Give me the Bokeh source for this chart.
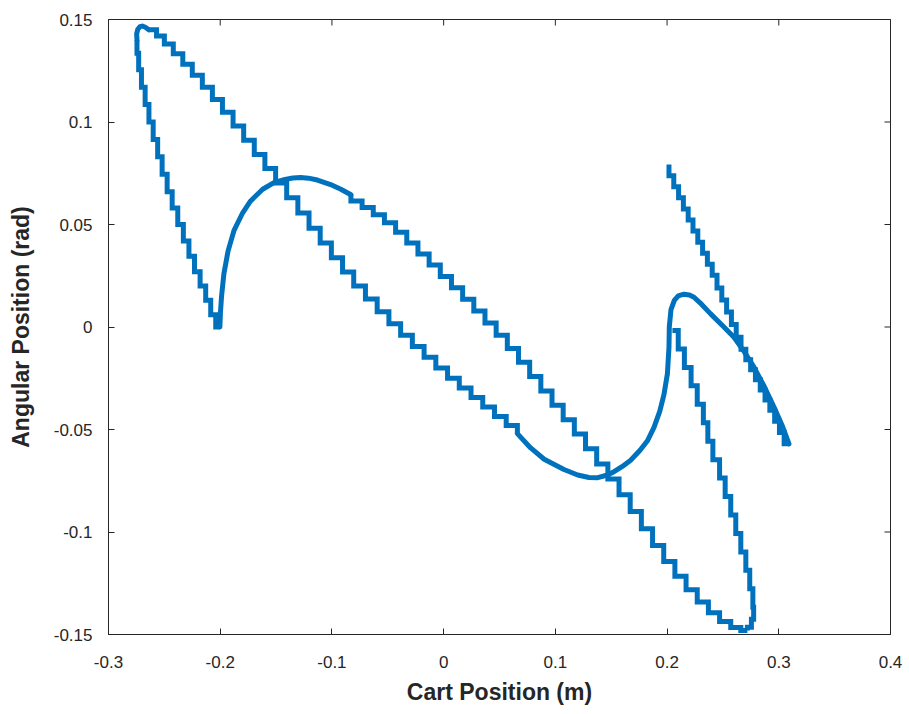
import math
from bokeh.plotting import figure
from bokeh.models import Range1d, FixedTicker
from bokeh.embed import file_html
from bokeh.resources import INLINE

# Cart-pole run: cart position (m) against pendulum angle (rad), in time order.
# Sections logged at the coarse rate are drawn as held (stair) samples,
# sections logged at the fine rate as plain lines.

# 1) held: start near (0.2, 0) and swing down to the lower-right turn
drop_x = [0.2048, 0.2100, 0.2155, 0.2215, 0.2270, 0.2325, 0.2365, 0.2410, 0.2470,
          0.2520, 0.2570, 0.2615, 0.2660, 0.2705, 0.2740, 0.2768, 0.2775, 0.2755, 0.2719]
drop_y = [-0.0017, -0.0107, -0.0197, -0.0287, -0.0377, -0.0467, -0.0557, -0.0647, -0.0737,
          -0.0827, -0.0917, -0.1007, -0.1097, -0.1187, -0.1277, -0.1367, -0.1425, -0.1465, -0.1480]

# 2) held: long sweep back up to the left
sweep_back_x = [0.2719, 0.266, 0.257, 0.247, 0.237, 0.227, 0.217, 0.207, 0.197, 0.187,
                0.177, 0.167, 0.157, 0.147, 0.137, 0.127, 0.117, 0.107, 0.097, 0.087,
                0.077, 0.067, 0.057, 0.047, 0.037, 0.027, 0.017, 0.007, -0.003, -0.013,
                -0.023, -0.033, -0.043, -0.053, -0.063, -0.073, -0.083]
sweep_back_y = [-0.1480, -0.1466, -0.1436, -0.1394, -0.1342, -0.1282, -0.1216, -0.1144, -0.1066, -0.0984,
                -0.0900, -0.0818, -0.0742, -0.0668, -0.0594, -0.0522, -0.0452, -0.0382, -0.0312, -0.0242,
                -0.0172, -0.0105, -0.0040, 0.0020, 0.0078, 0.0135, 0.0191, 0.0246, 0.0302, 0.0356,
                0.0410, 0.0462, 0.0508, 0.0548, 0.0583, 0.0615, 0.0645]

# 3) fine: over the left hump and down into the cusp at (-0.2, 0)
hump_x = [-0.083, -0.092, -0.1012, -0.113, -0.121, -0.128, -0.135, -0.142, -0.1519,
          -0.162, -0.1728, -0.180, -0.1877, -0.193, -0.1967, -0.1988, -0.1998, -0.2003]
hump_y = [0.0645, 0.0672, 0.0695, 0.0717, 0.0726, 0.0729, 0.0727, 0.0720, 0.0704,
          0.0672, 0.0615, 0.0556, 0.0470, 0.0370, 0.0260, 0.0150, 0.0070, 0.0000]

# 4) held: climb to the top-left corner
climb_x = [-0.2003, -0.2040, -0.2085, -0.2130, -0.2180, -0.2230, -0.2280, -0.2330, -0.2380,
           -0.2430, -0.2475, -0.2520, -0.2560, -0.2600, -0.2638, -0.2672, -0.2705, -0.2730, -0.2745]
climb_y = [0.0000, 0.0060, 0.0130, 0.0200, 0.0270, 0.0345, 0.0420, 0.0500, 0.0580,
           0.0660, 0.0745, 0.0830, 0.0915, 0.1000, 0.1085, 0.1170, 0.1255, 0.1335, 0.1400]

# fine: rounded top-left corner
corner_x = [-0.2745, -0.2748, -0.2738, -0.2718, -0.2697, -0.2670, -0.2640]
corner_y = [0.1400, 0.1430, 0.1452, 0.1465, 0.1468, 0.1462, 0.1450]

# 5) held: diagonal run down to the right
diag_x = [-0.2640, -0.2570, -0.2500, -0.2420, -0.2335, -0.2250, -0.2160, -0.2070, -0.1980,
          -0.1885, -0.1790, -0.1695, -0.1600, -0.1504, -0.1405, -0.1305, -0.1205, -0.1105,
          -0.1005, -0.0905, -0.0805, -0.0700, -0.0595, -0.0490, -0.0385, -0.0280, -0.0175,
          -0.0070, 0.0035, 0.0140, 0.0245, 0.0350, 0.0455, 0.0560, 0.0660]
diag_y = [0.1450, 0.1420, 0.1380, 0.1333, 0.1282, 0.1228, 0.1170, 0.1110, 0.1047,
          0.0980, 0.0911, 0.0842, 0.0773, 0.0703, 0.0630, 0.0556, 0.0482, 0.0410,
          0.0338, 0.0268, 0.0200, 0.0136, 0.0075, 0.0016, -0.0040, -0.0095, -0.0148,
          -0.0200, -0.0250, -0.0298, -0.0344, -0.0390, -0.0436, -0.0480, -0.0520]

# 6) fine: through the lower valley, over the right bump, out to the far right
valley_x = [0.066, 0.0779, 0.090, 0.1077, 0.120, 0.130, 0.138, 0.1466, 0.1525, 0.160,
            0.1674, 0.1760, 0.1824, 0.1883, 0.1935, 0.1972, 0.2003, 0.2017, 0.2020, 0.2035,
            0.2065, 0.2100, 0.2151, 0.2200, 0.2241, 0.2310, 0.2390, 0.2500, 0.2599, 0.2690,
            0.2778, 0.2870, 0.2957, 0.3030, 0.3091]
valley_y = [-0.0520, -0.0590, -0.0645, -0.0695, -0.0722, -0.0734, -0.0735, -0.0722, -0.0706, -0.0680,
            -0.0650, -0.0600, -0.0555, -0.0490, -0.0410, -0.0330, -0.0228, -0.0100, 0.0000, 0.0085,
            0.0130, 0.0152, 0.0160, 0.0156, 0.0145, 0.0110, 0.0064, 0.0005, -0.0050, -0.0120,
            -0.0196, -0.0290, -0.0391, -0.0480, -0.0570]

# 7) held: final run back up to (0.2, 0.08)
ret_x = [0.3091, 0.3048, 0.3006, 0.2963, 0.2920, 0.2877, 0.2834, 0.2791, 0.2748, 0.2705,
         0.2662, 0.2619, 0.2576, 0.2533, 0.2490, 0.2447, 0.2404, 0.2361, 0.2318, 0.2275,
         0.2232, 0.2189, 0.2146, 0.2103, 0.2060, 0.2017]
ret_y = [-0.0570, -0.0515, -0.0460, -0.0406, -0.0356, -0.0307, -0.0257, -0.0208, -0.0160, -0.0108,
         -0.0050, 0.0012, 0.0073, 0.0132, 0.0190, 0.0252, 0.0306, 0.0360, 0.0414, 0.0468,
         0.0522, 0.0576, 0.0630, 0.0684, 0.0738, 0.0793]

x_ticks = [-0.3, -0.2, -0.1, 0.0, 0.1, 0.2, 0.3, 0.4]
x_tick_labels = ["-0.3", "-0.2", "-0.1", "0", "0.1", "0.2", "0.3", "0.4"]
y_ticks = [-0.15, -0.1, -0.05, 0.0, 0.05, 0.1, 0.15]
y_tick_labels = ["-0.15", "-0.1", "-0.05", "0", "0.05", "0.1", "0.15"]

LINE = "#0072BD"
INK = "#262626"
FONT = "Liberation Sans"

p = figure(
    frame_width=782, frame_height=615,
    x_range=Range1d(-0.3, 0.4), y_range=Range1d(-0.15, 0.15),
    output_backend="svg", toolbar_location=None,
    min_border_left=108, min_border_right=19, min_border_top=19, min_border_bottom=80,
    background_fill_color="white", border_fill_color="white",
)
p.grid.visible = False
p.outline_line_color = INK
p.outline_line_width = 1

p.xaxis.ticker = FixedTicker(ticks=x_ticks)
p.yaxis.ticker = FixedTicker(ticks=y_ticks)
p.xaxis.major_label_overrides = dict(zip(x_ticks, x_tick_labels))
p.yaxis.major_label_overrides = dict(zip(y_ticks, y_tick_labels))
p.xaxis.axis_label = "Cart Position (m)"
p.yaxis.axis_label = "Angular Position (rad)"

for ax in (p.xaxis[0], p.yaxis[0]):
    ax.axis_line_color = INK
    ax.major_tick_line_color = INK
    ax.major_tick_in = 6
    ax.major_tick_out = 0
    ax.minor_tick_line_color = None
    ax.major_label_text_font = FONT
    ax.major_label_text_font_size = "17px"
    ax.major_label_text_color = INK
    ax.axis_label_text_font = FONT
    ax.axis_label_text_font_style = "bold"
    ax.axis_label_text_font_size = "23px"
    ax.axis_label_text_color = INK
p.xaxis.major_label_standoff = 21
p.xaxis.axis_label_standoff = 8
p.yaxis.major_label_standoff = 16
p.yaxis.axis_label_standoff = 17

# inward ticks along the top and right edges of the box (the frame clips
# each dash to its inner half)
n_x, n_y = len(x_ticks), len(y_ticks)
p.scatter(x_ticks, [p.y_range.end] * n_x, marker="dash", angle=math.pi / 2,
          size=12, line_color=INK, line_width=1)
p.scatter([p.x_range.end] * n_y, y_ticks, marker="dash",
          size=12, line_color=INK, line_width=1)

held = [(drop_x, drop_y), (sweep_back_x, sweep_back_y), (climb_x, climb_y),
        (diag_x, diag_y), (ret_x, ret_y)]
fine = [(hump_x, hump_y), (corner_x, corner_y), (valley_x, valley_y)]

for xs, ys in held:
    p.step(xs, ys, mode="after", line_color=LINE, line_width=5, line_join="miter")
for xs, ys in fine:
    p.line(xs, ys, line_color=LINE, line_width=5, line_join="round", line_cap="round")

open("out.html", "w").write(file_html(p, INLINE))
